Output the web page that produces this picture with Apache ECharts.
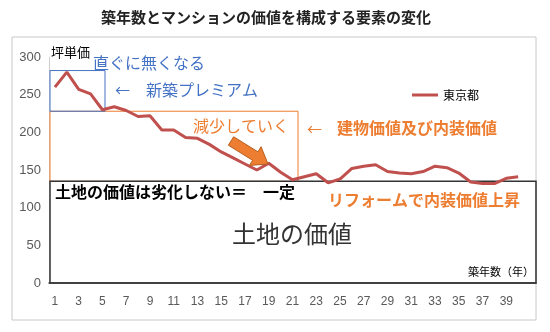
<!DOCTYPE html>
<html><head><meta charset="utf-8">
<script src="https://cdn.jsdelivr.net/npm/echarts@6/dist/echarts.min.js"></script>
<style>html,body{margin:0;padding:0;background:#fff}#c{width:550px;height:332px}</style>
</head><body><div id="c"></div>
<script>
var years = ['1','2','3','4','5','6','7','8','9','10','11','12','13','14','15','16','17','18','19','20','21','22','23','24','25','26','27','28','29','30','31','32','33','34','35','36','37','38','39','40',''];
var tokyo = [260,280,257,251,230,234,229,221,222,203,203,193,192,184,174,166,158,150,159,147,137,141,145,133,138,152,155,157,148,146,145,148,155,153,146,134,132,132,139,141];
var yTicks = {min:0, max:300, interval:50};
var landValue = 135;      // 土地の価値 (一定)
var buildingTop = 228;    // 建物価値及び内装価値 top
var premiumTop = 282;     // 新築プレミアム top

var FONT = '"Noto Sans CJK JP", sans-serif';
var chart = echarts.init(document.getElementById('c'), null, {renderer:'canvas'});
chart.setOption({
  animation:false,
  backgroundColor:'#fff',
  grid:{left:49, right:14, top:57, bottom:49},
  legend:{show:true, left:407, top:84, icon:'rect', itemWidth:26, itemHeight:3,
    textStyle:{fontFamily:FONT, fontSize:12, color:'#000'}, data:['東京都']},
  xAxis:{type:'category', data:years, boundaryGap:true,
    axisLine:{show:true, lineStyle:{color:'#404040', width:1.5}},
    axisTick:{show:false},
    axisLabel:{interval:1, margin:13, color:'#595959', fontSize:12, fontFamily:'"Liberation Sans", Arial, sans-serif'},
    splitLine:{show:false}},
  yAxis:{type:'value', min:yTicks.min, max:yTicks.max, interval:yTicks.interval,
    axisLine:{show:true, lineStyle:{color:'#d0d0d0', width:1}},
    axisTick:{show:false},
    axisLabel:{margin:8, color:'#595959', fontSize:13, fontFamily:'"Liberation Sans", Arial, sans-serif'},
    splitLine:{show:false}},
  series:[{name:'東京都', type:'line', data:tokyo, showSymbol:false, symbol:'none',
    lineStyle:{color:'#C0504D', width:3}, itemStyle:{color:'#C0504D'}, z:5}]
});

function yPx(v){ return chart.convertToPixel({yAxisIndex:0}, v); }
var yLand = yPx(landValue), yBuild = yPx(buildingTop), yPrem = yPx(premiumTop), y0 = yPx(0);

function arrowPts(x1,y1,x2,y2,s,H,h){
  var dx=x2-x1, dy=y2-y1, L=Math.sqrt(dx*dx+dy*dy), c=dx/L, sn=dy/L;
  var loc=[[0,-s],[L-h,-s],[L-h,-H],[L,0],[L-h,H],[L-h,s],[0,s]];
  return loc.map(function(p){return [x1+p[0]*c-p[1]*sn, y1+p[0]*sn+p[1]*c];});
}
function txt(x,y,t,color,size,weight,align){
  return {type:'text', x:x, y:y, z:10, style:{text:t, fill:color, font:(weight||'normal')+' '+size+'px '+FONT, textAlign:align||'left', textVerticalAlign:'middle'}};
}
var ORANGE='#ED7D31', BLUE='#4472C4';
chart.setOption({graphic:[
  {type:'rect', z:0, shape:{x:12, y:37, width:524, height:283}, style:{fill:'none', stroke:'#c8c8c8', lineWidth:1}},
  {type:'rect', z:1, shape:{x:50, y:yBuild, width:248, height:yLand-yBuild}, style:{fill:'none', stroke:ORANGE, lineWidth:1}},
  {type:'rect', z:1, shape:{x:50, y:yPrem, width:55, height:yBuild-yPrem}, style:{fill:'none', stroke:BLUE, lineWidth:1}},
  {type:'rect', z:2, shape:{x:50, y:yLand, width:486, height:y0-yLand}, style:{fill:'none', stroke:'#333', lineWidth:1.5}},
  {type:'polygon', z:9, shape:{points:arrowPts(231,141,268,164,5,11,15)}, style:{fill:ORANGE, stroke:'#B85E1E', lineWidth:1}},
  txt(266,17,'築年数とマンションの価値を構成する要素の変化','#222',15,'bold','center'),
  txt(51,52,'坪単価','#000',13),
  txt(93,63,'直ぐに無くなる',BLUE,16),
  txt(115,90,'←',BLUE,15),
  txt(146,90,'新築プレミアム',BLUE,16),
  txt(193,126,'減少していく',ORANGE,16),
  txt(307,129,'←',ORANGE,15),
  txt(337,128,'建物価値及び内装価値',ORANGE,16,'bold'),
  txt(55,192,'土地の価値は劣化しない＝　一定','#000',16,'bold'),
  txt(328,200,'リフォームで内装価値上昇',ORANGE,16,'bold'),
  txt(232,234,'土地の価値','#333',24),
  txt(534,272,'築年数（年）','#000',11,'normal','right')
]});
</script></body></html>
